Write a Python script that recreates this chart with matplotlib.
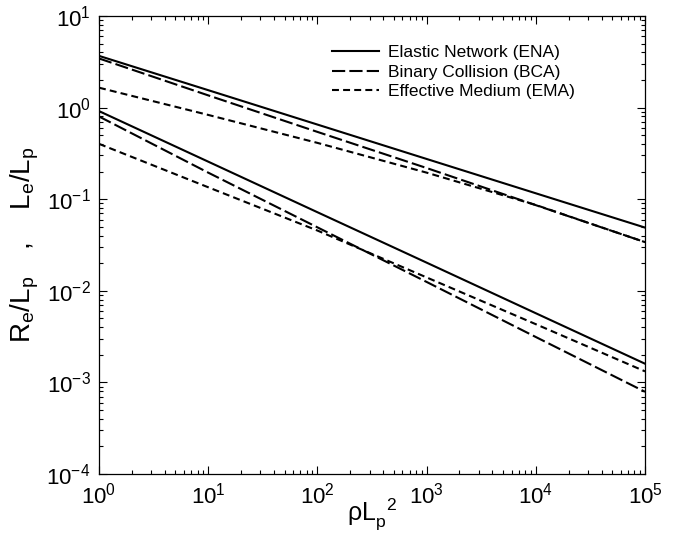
import matplotlib
matplotlib.use("Agg")
import matplotlib.pyplot as plt
from matplotlib.ticker import LogLocator, NullFormatter

plt.rcParams['font.family'] = ['Liberation Sans', 'DejaVu Sans']
plt.rcParams['mathtext.default'] = 'regular'
plt.rcParams['lines.scale_dashes'] = False

# data
rho = [1, 10, 100, 1000, 10000, 100000]
ena_upper = [3.67, 1.55, 0.653, 0.275, 0.116, 0.049]
bca_upper = [3.44, 1.36, 0.543, 0.219, 0.0861, 0.034]
ema_upper = [1.65, 0.832, 0.412, 0.195, 0.0865, 0.034]
ena_lower = [0.916, 0.257, 0.0721, 0.0203, 0.00569, 0.0016]
bca_lower = [0.80, 0.195, 0.0493, 0.0125, 0.00313, 0.00079]
ema_lower = [0.402, 0.135, 0.0455, 0.0140, 0.00432, 0.00132]
labels = ["Elastic Network (ENA)", "Binary Collision (BCA)", "Effective Medium (EMA)"]

W, H = 678, 535
fig = plt.figure(figsize=(W / 100, H / 100), dpi=100)
ax = fig.add_axes([99 / W, (H - 474) / H, (645 - 99) / W, (474 - 16) / H])

lw = 1.5
long_d = (9.5, 3.0)
short_d = (5.0, 3.0)
ax.plot(rho, ena_upper, color='black', lw=lw, label=labels[0])
ax.plot(rho, bca_upper, color='black', lw=lw, dashes=long_d, label=labels[1])
ax.plot(rho, ema_upper, color='black', lw=lw, dashes=short_d, label=labels[2])
ax.plot(rho, ena_lower, color='black', lw=lw)
ax.plot(rho, bca_lower, color='black', lw=lw, dashes=long_d)
ax.plot(rho, ema_lower, color='black', lw=lw, dashes=short_d)

ax.set_xscale('log')
ax.set_yscale('log')
ax.set_xlim(1, 1e5)
ax.set_ylim(1e-4, 10)
ax.xaxis.set_major_locator(LogLocator(base=10, numticks=10))
ax.yaxis.set_major_locator(LogLocator(base=10, numticks=10))
ax.xaxis.set_minor_locator(LogLocator(base=10, subs=range(2, 10), numticks=20))
ax.yaxis.set_minor_locator(LogLocator(base=10, subs=range(2, 10), numticks=20))
ax.xaxis.set_minor_formatter(NullFormatter())
ax.yaxis.set_minor_formatter(NullFormatter())
ax.tick_params(which='both', direction='in', top=True, right=True, width=0.8)
ax.tick_params(which='major', length=5.5, labelsize=16, pad=6)
ax.tick_params(which='minor', length=3)
for s in ax.spines.values():
    s.set_linewidth(0.9)

ax.set_xlabel(r'$\rho L_p^{\ \ 2}$', fontsize=18)
ax.xaxis.label.set_verticalalignment('bottom')
ax.xaxis.set_label_coords(0.5, (3 - (H - 474)) / (474 - 16))
ax.set_ylabel(r'$R_e/L_p\ \ \ ,\ \ \ L_e/L_p$', fontsize=20, labelpad=4)

ax.legend(loc='upper left', bbox_to_anchor=(0.427, 0.937), frameon=False, fontsize=12.5,
          handlelength=2.7, handletextpad=0.5, labelspacing=0.26,
          borderpad=0, borderaxespad=0)

fig.savefig('out.png', dpi=100)
